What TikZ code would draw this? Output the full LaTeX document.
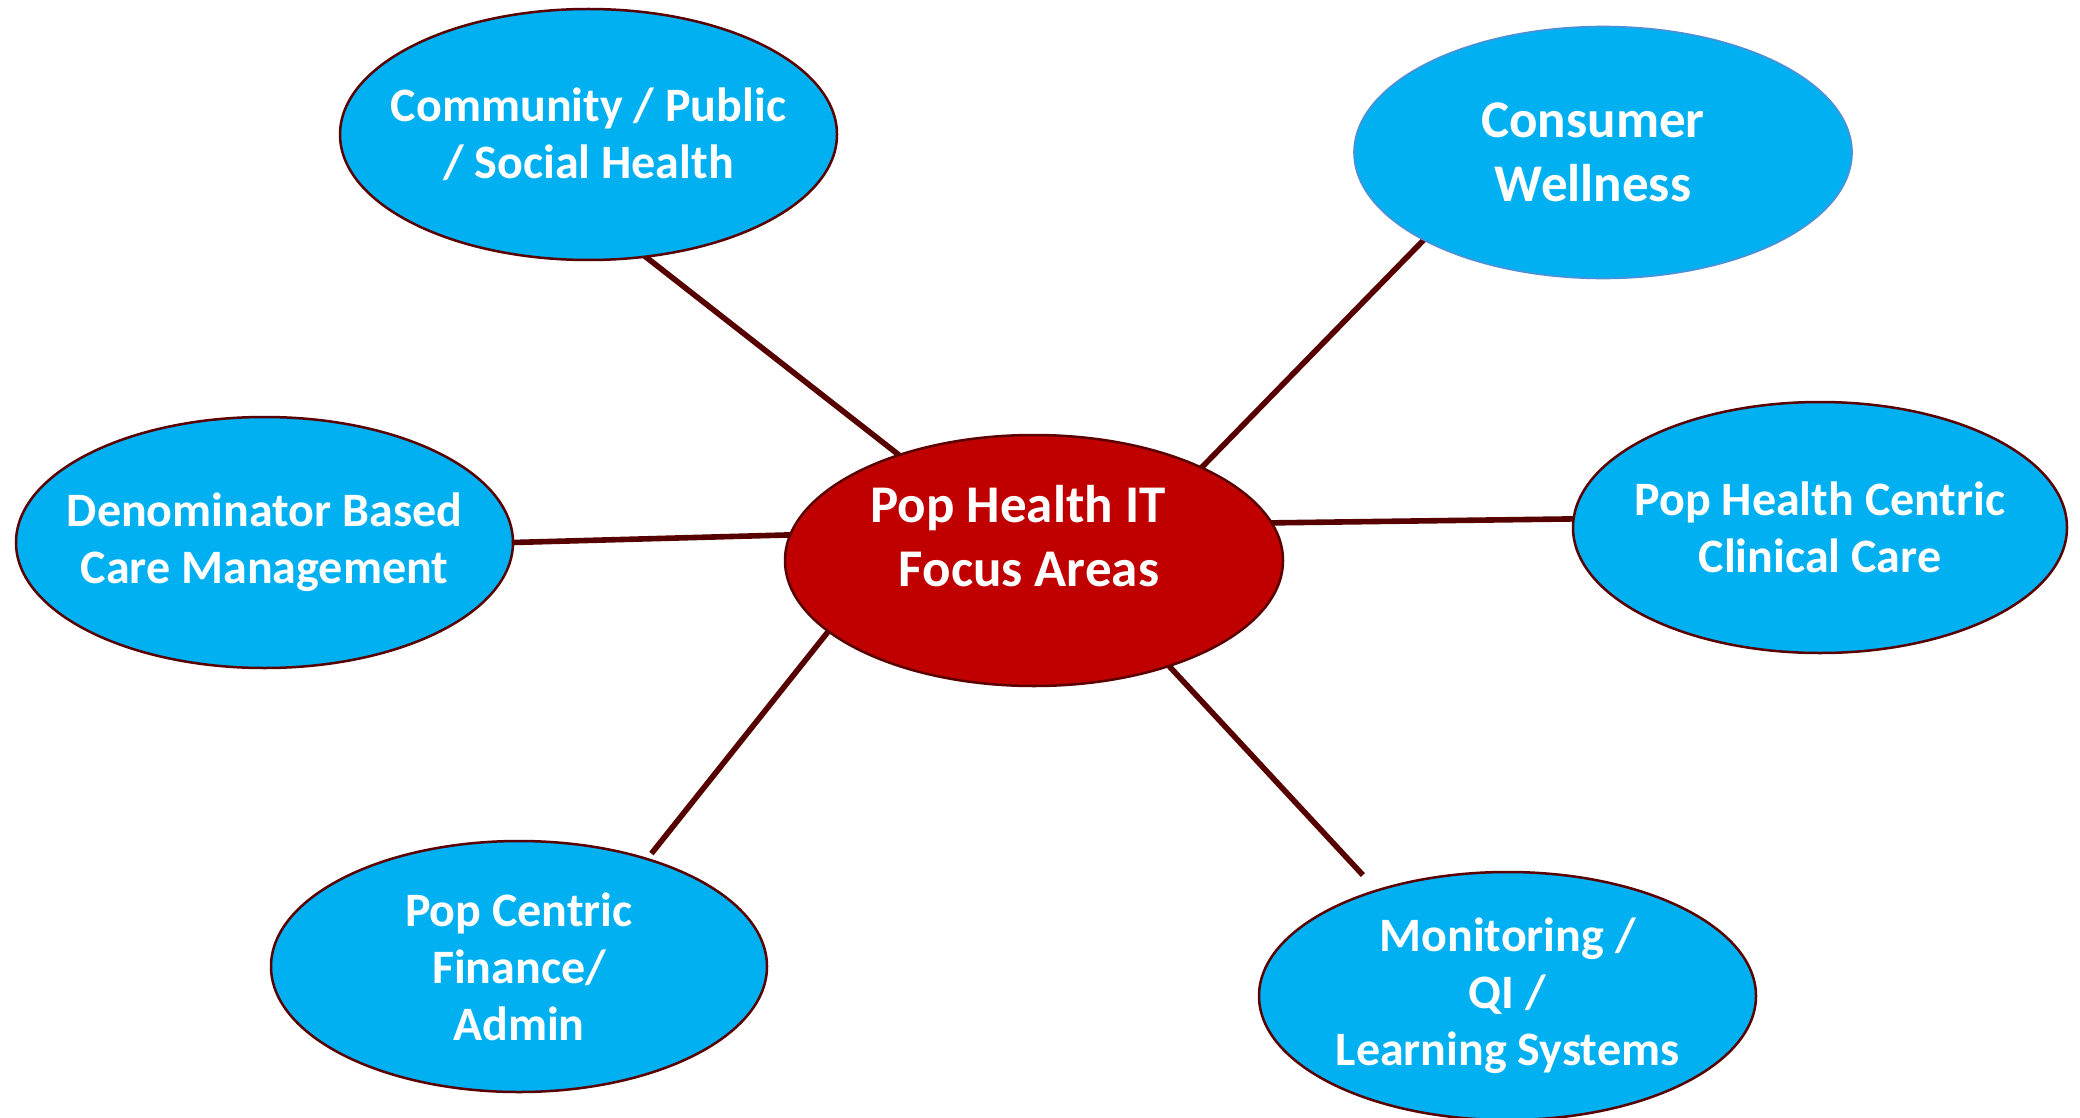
\documentclass[tikz,border=0pt]{standalone}
\usepackage{fontspec}
\setmainfont{Carlito}
\usetikzlibrary{shapes.geometric,backgrounds}
\definecolor{bubblue}{HTML}{00B0F0}
\definecolor{hubred}{HTML}{C00000}
\definecolor{rim}{HTML}{5A0000}
\definecolor{spokecol}{HTML}{560000}
\definecolor{softrim}{HTML}{4F8FD6}

\begin{document}
\begin{tikzpicture}[x=1pt,y=-1pt,
  bubble/.style={ellipse, minimum width=497pt, minimum height=251pt,
    inner sep=0pt, outer sep=0pt, fill=bubblue, draw=rim, line width=2.5pt},
  bubtext/.style={text=white, align=center, inner sep=0pt,
    font=\fontsize{48}{57}\selectfont\bfseries},
  bigtext/.style={text=white, align=center, inner sep=0pt,
    font=\fontsize{53}{64}\selectfont\bfseries},
  hubtext/.style={text=white, align=center, inner sep=0pt,
    font=\fontsize{53}{64}\selectfont\bfseries},
  spoke/.style={draw=spokecol, line width=5.6pt, shorten <=-6pt}
]
\useasboundingbox (0,0) rectangle (2080,1118);

% central topic
\node[bubble, fill=hubred, minimum width=498pt,
  label={[hubtext, xshift=-5pt, yshift=24pt]center:{Pop Health IT\hspace*{22pt}\\Focus Areas}}]
  (hub) at (1034,560.5) {};

% surrounding focus areas
\node[bubble, label={[bubtext]center:{Community / Public\\/ Social Health}}]
  (com) at (588.5,134.5) {};
\node[bubble, draw=softrim, line width=1.6pt, minimum width=498pt, minimum height=252pt,
  label={[bigtext, xshift=-10pt]center:{Consumer\\Wellness}}]
  (con) at (1603,152.5) {};
\node[bubble, label={[bubtext]center:{Denominator Based\\Care Management}}]
  (den) at (264.5,542.5) {};
\node[bubble, minimum width=494pt,
  label={[bubtext]center:{Pop Health Centric\\Clinical Care}}]
  (phc) at (1820,527.5) {};
\node[bubble, minimum width=496pt,
  label={[bubtext]center:{Pop Centric\\Finance/\\Admin}}]
  (fin) at (519,966.5) {};
\node[bubble, minimum height=248pt,
  label={[bubtext]center:{Monitoring /\\QI /\\Learning Systems}}]
  (mon) at (1507.5,996) {};

% white page and spokes, kept behind the ellipses
\begin{scope}[on background layer]
  \fill[white] (0,0) rectangle (2080,1118);
  \draw[spoke, shorten >=-4pt] (hub.142.5) -- (com.-65);
  \draw[spoke, shorten >=-6pt] (hub.29.6) -- (con.-154);
  \draw[spoke, shorten >=-6pt] (hub.174.6) -- (den.0.6);
  \draw[spoke, shorten >=-6pt] (hub.9.1) -- (phc.178.2);
  \draw[spoke, shorten >=7pt] (hub.199.6) -- (fin.40);
  \draw[spoke, shorten >=21pt] (hub.-38.2) -- (mon.141.5);
\end{scope}
\end{tikzpicture}
\end{document}
